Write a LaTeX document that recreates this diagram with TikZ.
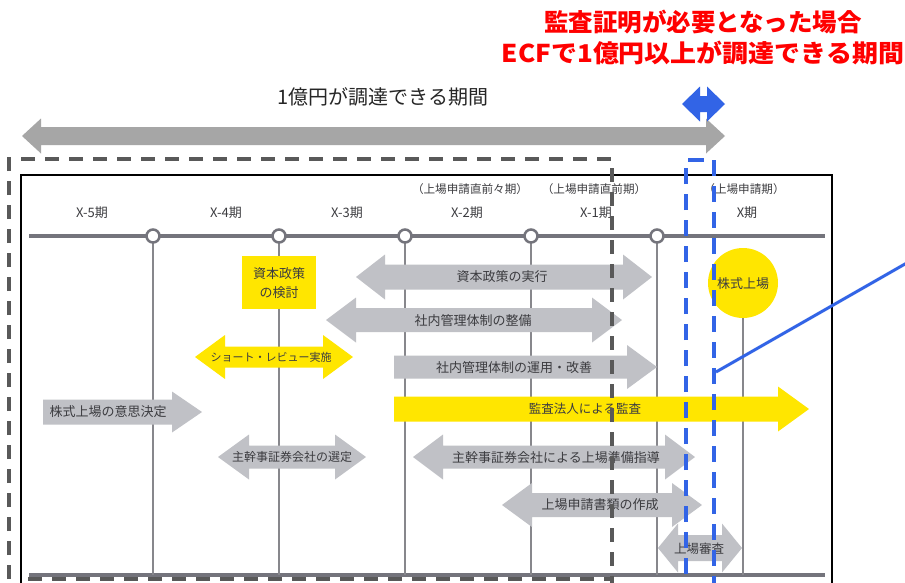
\documentclass[tikz,border=0pt]{standalone}
\usepackage{fontspec}
\newfontfamily\jp{Noto Sans CJK JP}
\definecolor{agray}{RGB}{192,193,198}
\definecolor{bgray}{RGB}{166,166,166}
\definecolor{eyel}{RGB}{255,230,0}
\definecolor{tline}{RGB}{116,116,124}
\definecolor{vline}{RGB}{135,135,140}
\definecolor{dgray}{RGB}{89,89,89}
\definecolor{eblue}{RGB}{50,100,230}
\definecolor{ered}{RGB}{255,0,0}
\definecolor{txt}{RGB}{60,60,64}
\newcommand\myDArrow[7]{%
  \fill[#7] (#1,#3) -- ({#1+#6},{#3-#5}) -- ({#1+#6},{#3-#4}) -- ({#2-#6},{#3-#4}) -- ({#2-#6},{#3-#5}) -- (#2,#3) -- ({#2-#6},{#3+#5}) -- ({#2-#6},{#3+#4}) -- ({#1+#6},{#3+#4}) -- ({#1+#6},{#3+#5}) -- cycle;}
\newcommand\myRArrow[7]{%
  \fill[#7] (#1,{#3-#4}) -- ({#2-#6},{#3-#4}) -- ({#2-#6},{#3-#5}) -- (#2,#3) -- ({#2-#6},{#3+#5}) -- ({#2-#6},{#3+#4}) -- (#1,{#3+#4}) -- cycle;}
\begin{document}
\begin{tikzpicture}[x=1pt,y=-1pt,
  every node/.style={inner sep=0pt},
  lbl/.style={font=\jp\fontsize{13}{15}\selectfont, text=txt},
  hdr/.style={font=\jp\fontsize{11.6}{13}\selectfont, text=txt},
  per/.style={font=\jp\fontsize{13}{15}\selectfont, text=txt},
  redt/.style={font=\jp\bfseries\fontsize{24.5}{28}\selectfont, text=ered},
  tick/.style={circle, draw=tline, line width=2.5pt, fill=white, minimum size=13pt},
  vl/.style={draw=vline, line width=1.3pt},
  tl/.style={draw=tline, line width=4pt},
  ddash/.style={draw=dgray, line width=3.5pt, dash pattern=on 14pt off 10pt},
  bdash/.style={draw=eblue, line width=3.5pt, dash pattern=on 16pt off 10pt}]
\useasboundingbox (0,0) rectangle (905,582);
\clip (0,0) rectangle (905,582);
\fill[white] (0,0) rectangle (905,582);

% titles
\node[redt] (r1) at (703,22) {監査証明が必要となった場合};
\node[redt, xscale=1.06] (r2) at (703,53) {ECFで1億円以上が調達できる期間};
\node[font=\jp\fontsize{20}{24}\selectfont, text=black!85] (gt) at (383,97) {1億円が調達できる期間};

% big gray double arrow
\myDArrow{22}{725}{136}{9}{17.5}{19}{bgray}
% blue double arrow
\myDArrow{682}{725}{104}{8}{17.5}{18}{eblue}

% frame
\draw[black, line width=1.8pt] (21,175) rectangle (832,610);

% timeline
\coordinate (tlL) at (29,236);
\coordinate (tlR) at (825,236);
\coordinate (bL) at (29,575);
\coordinate (bR) at (825,575);
\draw[tl] (tlL) -- (tlR);
\draw[draw=tline, line width=3.5pt] (bL) -- (bR);
\foreach \i/\x in {1/153,2/279,3/405,4/531,5/657}{
  \coordinate (v\i) at (\x,575);
  \draw[vl] (\x,236) -- (v\i);
}
\foreach \i/\x in {1/153,2/279,3/405,4/531,5/657}{
  \node[tick] (c\i) at (\x,236) {};
}
\coordinate (v6) at (743,575);
\draw[vl] (743,300) -- (v6);

% headers
\node[hdr] (h1) at (470,189) {（上場申請直前々期）};
\node[hdr] (h2) at (594,189) {（上場申請直前期）};
\node[hdr] (h3) at (744,189) {（上場申請期）};
\node[per] (p5) at (92,213) {X-5期};
\node[per] (p4) at (226,213) {X-4期};
\node[per] (p3) at (347,213) {X-3期};
\node[per] (p2) at (467,213) {X-2期};
\node[per] (p1) at (596,213) {X-1期};
\node[per] (p0) at (747,213) {X期};

% boxes and arrows
\fill[eyel] (242,256) rectangle (316,309);
\node[lbl, align=center, font=\jp\fontsize{13}{19}\selectfont] (kk) at (279,283) {資本政策\\の検討};

\myDArrow{356}{652}{277}{12.5}{22.5}{29}{agray}
\node[lbl] (a1) at (502,277) {資本政策の実行};

\myDArrow{326}{622}{320}{12}{22.5}{30}{agray}
\node[lbl] (a2) at (473,321) {社内管理体制の整備};

\myDArrow{195}{353}{357}{10.5}{22}{30}{eyel}
\node[lbl, font=\jp\fontsize{11}{13}\selectfont] (a3) at (271,357) {ショート・レビュー実施};

\myRArrow{394}{657}{367}{11.5}{22}{30}{agray}
\node[lbl] (a4) at (514,368) {社内管理体制の運用・改善};

\myRArrow{43}{202}{412}{12.5}{20.5}{30}{agray}
\node[lbl] (a5) at (108,412) {株式上場の意思決定};

\myRArrow{394}{809}{409}{12.5}{22.5}{31}{eyel}
\node[lbl, font=\jp\fontsize{12.5}{15}\selectfont] (a6) at (585,409) {監査法人による監査};

\myDArrow{218}{366}{457}{11.5}{22.5}{31}{agray}
\node[lbl, font=\jp\fontsize{12}{15}\selectfont] (a7) at (292,457) {主幹事証券会社の選定};

\myDArrow{413}{695}{457}{11.5}{22.5}{30}{agray}
\node[lbl] (a8) at (556,458) {主幹事証券会社による上場準備指導};

\myDArrow{502}{702}{505}{12}{22}{30}{agray}
\node[lbl] (a9) at (600,505) {上場申請書類の作成};

\myDArrow{658}{742}{548}{13}{24.5}{20}{agray}
\node[lbl, font=\jp\fontsize{12.5}{15}\selectfont] (a10) at (699,549) {上場審査};

\node[circle, fill=eyel, minimum size=70pt] (ipo) at (743,283) {};
\node[lbl] (ipot) at (743,284) {株式上場};

% dashed overlays
\draw[ddash] (9,579) -- (9,159) -- (612,159) -- (612,600);
\draw[ddash] (28,579) -- (612,579);
\draw[bdash] (686,600) -- (686,160) -- (714,160) -- (714,600);
\coordinate (bs) at (716,372);
\coordinate (be) at (912,260);
\draw[eblue, line width=3pt] (bs) -- (be);
\end{tikzpicture}
\end{document}
